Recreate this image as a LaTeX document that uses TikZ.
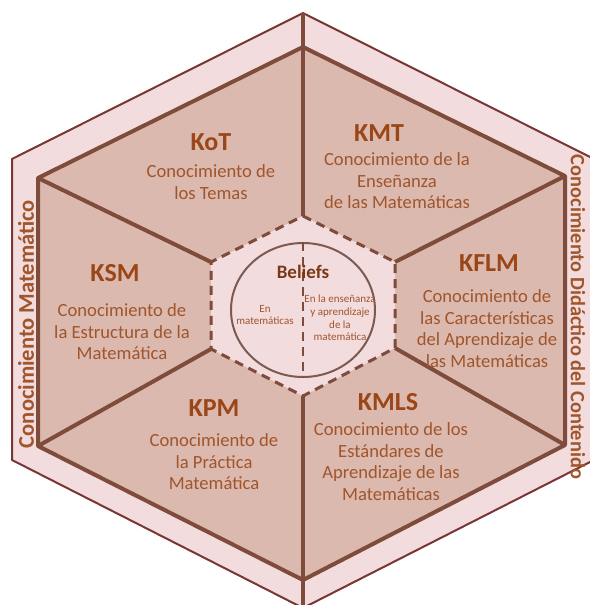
\documentclass[tikz,border=0pt]{standalone}
\usepackage{fontspec}
\setmainfont{Carlito}
\usetikzlibrary{shapes.geometric, positioning, calc}
\definecolor{bandpink}{HTML}{F2DCDE}
\definecolor{fieldbrown}{HTML}{DBB9AF}
\definecolor{edgebrown}{HTML}{7F4B3B}
\definecolor{rimred}{HTML}{7A3535}
\definecolor{ringbrown}{HTML}{7D5A50}
\definecolor{titlebrown}{HTML}{9A4617}
\definecolor{descbrown}{HTML}{A0552B}
\tikzstyle{title} = [font=\fontsize{26}{30}\selectfont\bfseries, text=titlebrown, inner sep=0pt]
\tikzstyle{desc} = [font=\fontsize{18.6}{21.5}\selectfont, text=descbrown, align=center, inner sep=0pt]
\tikzstyle{sidelabel} = [font=\fontsize{20.4}{24}\selectfont\bfseries, text=descbrown, inner sep=0pt]
\tikzstyle{belief} = [font=\fontsize{11}{12.6}\selectfont, text=descbrown, align=center, inner sep=0pt]
\tikzstyle{spoke} = [line width=4pt, edgebrown]
\tikzstyle{rim} = [line width=4pt, edgebrown, line join=round]
\tikzstyle{core} = [line width=3pt, edgebrown, dash pattern=on 9pt off 6pt]

\begin{document}
\begin{tikzpicture}[x=1pt, y=-1pt]
	\useasboundingbox (0,0) rectangle (589,605);

	% Corners
	\coordinate (out_t)  at (303,13);
	\coordinate (out_ur) at (594,159);
	\coordinate (out_lr) at (594,460);
	\coordinate (out_b)  at (303,608);
	\coordinate (out_ll) at (12,460);
	\coordinate (out_ul) at (12,159);

	\coordinate (in_t)  at (303,47);
	\coordinate (in_ur) at (565,176);
	\coordinate (in_lr) at (565,445);
	\coordinate (in_b)  at (303,580);
	\coordinate (in_ll) at (38,446);
	\coordinate (in_ul) at (38,178);

	\coordinate (mid_t)  at (303,216);
	\coordinate (mid_ur) at (395,262);
	\coordinate (mid_lr) at (395,348);
	\coordinate (mid_b)  at (303,396);
	\coordinate (mid_ll) at (211,349);
	\coordinate (mid_ul) at (211,262);

	% Outer band
	\draw[fill=bandpink, draw=rimred, line width=2pt, line join=round] (out_t) -- (out_ur) -- (out_lr) -- (out_b) -- (out_ll) -- (out_ul) -- cycle;

	% Knowledge field
	\draw[rim, fill=fieldbrown] (in_t) -- (in_ur) -- (in_lr) -- (in_b) -- (in_ll) -- (in_ul) -- cycle;

	% Spokes
	\draw[spoke] (out_t) -- (mid_t);
	\draw[spoke] (mid_b) -- (out_b);
	\draw[spoke] (in_ul) -- (mid_ul);
	\draw[spoke] (in_ll) -- (mid_ll);
	\draw[spoke] (in_ur) -- (mid_ur);
	\draw[spoke] (in_lr) -- (mid_lr);

	% Beliefs core
	\draw[core, fill=bandpink] (mid_t) -- (mid_ur) -- (mid_lr) -- (mid_b) -- (mid_ll) -- (mid_ul) -- cycle;
	\node (belief_ring) [ellipse, draw=ringbrown, line width=2pt, fill=bandpink, minimum width=144pt, minimum height=134pt, inner sep=0pt] at (303,310) {};
	\draw[core, line width=2.5pt] (belief_ring.north) -- (belief_ring.south);

	\node (beliefs) [font=\fontsize{19}{22}\selectfont\bfseries, text=titlebrown!80!black, inner sep=0pt] at (303,272) {Beliefs};
	\node (belief_math) [belief] at (265,315) {En\\matemáticas};
	\node (belief_teach) [belief] at (340,318) {En la enseñanza\\y aprendizaje\\de la\\matemática};

	% Subdomains
	\node (kot) [title] at (211,142) {KoT};
	\node (kot_desc) [desc, below=14pt of kot] {Conocimiento de\\los Temas};

	\node (kmt) [title] at (379,133) {KMT};
	\node (kmt_desc) [desc, below=11pt of kmt, xshift=18pt] {Conocimiento de la\\Enseñanza\\de las Matemáticas};

	\node (ksm) [title] at (115,273) {KSM};
	\node (ksm_desc) [desc, below=22pt of ksm, xshift=7pt] {Conocimiento de\\la Estructura de la\\Matemática};

	\node (kflm) [title] at (489,263) {KFLM};
	\node (kflm_desc) [desc, below=18pt of kflm, xshift=-2pt] {Conocimiento de\\las Características\\del Aprendizaje de\\las Matemáticas};

	\node (kpm) [title] at (214,408) {KPM};
	\node (kpm_desc) [desc, below=17pt of kpm] {Conocimiento de\\la Práctica\\Matemática};

	\node (kmls) [title] at (388,402) {KMLS};
	\node (kmls_desc) [desc, below=12pt of kmls, xshift=3pt] {Conocimiento de los\\Estándares de\\Aprendizaje de las\\Matemáticas};

	% Domains
	\node (math_domain) [sidelabel, font=\fontsize{22.5}{26}\selectfont\bfseries, rotate=90] at (26,324) {Conocimiento Matemático};
	\node (pck_domain) [sidelabel, rotate=-90] at (578,317) {Conocimiento Didáctico del Contenido};

\end{tikzpicture}
\end{document}
